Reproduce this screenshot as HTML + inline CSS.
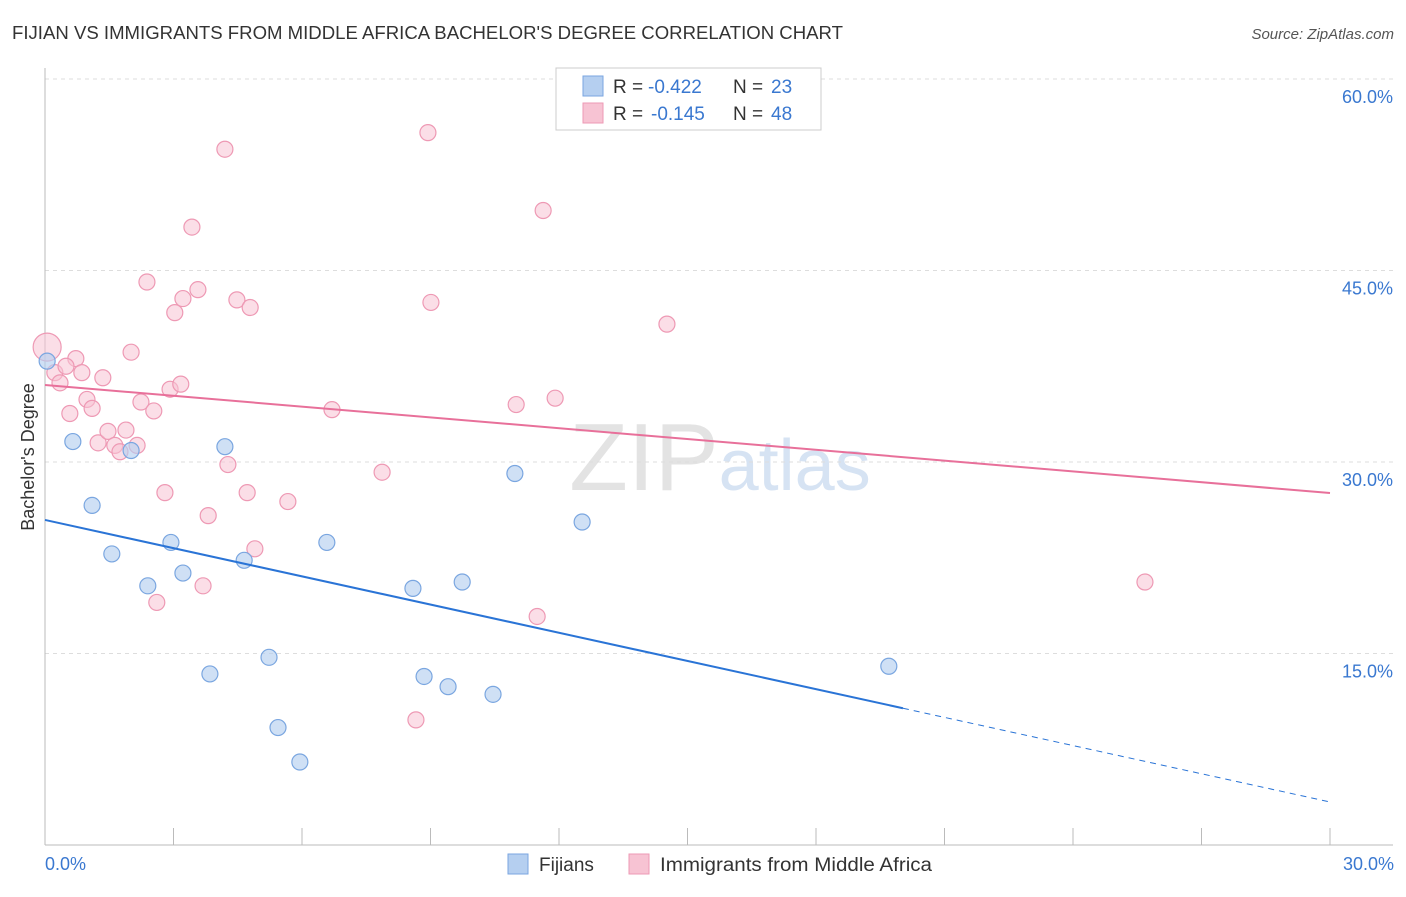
<!DOCTYPE html>
<html><head><meta charset="utf-8"><style>
body{margin:0;background:#fff;font-family:"Liberation Sans",sans-serif}
svg text{font-family:"Liberation Sans",sans-serif}
</style></head><body>
<svg id="c" width="1406" height="892">
<text x="12" y="39" font-size="18" fill="#333" textLength="831" lengthAdjust="spacingAndGlyphs">FIJIAN VS IMMIGRANTS FROM MIDDLE AFRICA BACHELOR'S DEGREE CORRELATION CHART</text>
<text x="1394" y="39" font-size="15" fill="#555" text-anchor="end" font-style="italic">Source: ZipAtlas.com</text>
<text x="720" y="490" font-size="96" fill="#e3e3e3" text-anchor="middle" font-family="Liberation Serif">ZIP<tspan fill="#d6e3f3" font-family="Liberation Sans" font-size="72">atlas</tspan></text>
<g id="grid"></g><g id="pts"></g><g id="lines"></g>
<text transform="translate(34,457) rotate(-90)" font-size="18" fill="#333" text-anchor="middle">Bachelor's Degree</text>
<text x="45" y="870" font-size="18" fill="#3a78d0">0.0%</text>
<text x="1394" y="870" font-size="18" fill="#3a78d0" text-anchor="end">30.0%</text>
<g>
<rect x="556" y="68" width="265" height="62" fill="#fff" stroke="#ccc"/>
<rect x="583" y="76" width="20" height="20" fill="#b5cff0" stroke="#7aa6e0"/>
<text x="613" y="93" font-size="19" fill="#333">R =</text>
<text x="648" y="93" font-size="19" fill="#3a78d0">-0.422</text>
<text x="733" y="93" font-size="19" fill="#333">N =</text>
<text x="771" y="93" font-size="19" fill="#3a78d0">23</text>
<rect x="583" y="103" width="20" height="20" fill="#f7c3d3" stroke="#ee99b4"/>
<text x="613" y="120" font-size="19" fill="#333">R =</text>
<text x="651" y="120" font-size="19" fill="#3a78d0">-0.145</text>
<text x="733" y="120" font-size="19" fill="#333">N =</text>
<text x="771" y="120" font-size="19" fill="#3a78d0">48</text>
</g>
<g>
<rect x="508" y="854" width="20" height="20" fill="#b5cff0" stroke="#7aa6e0"/>
<text x="539" y="871" font-size="19" fill="#333">Fijians</text>
<rect x="629" y="854" width="20" height="20" fill="#f7c3d3" stroke="#ee99b4"/>
<text x="660" y="871" font-size="19" fill="#333" textLength="272" lengthAdjust="spacingAndGlyphs">Immigrants from Middle Africa</text>
</g>
</svg>
<script>
const yTicks=[15,30,45,60];
const xTicks=[0,3,6,9,12,15,18,21,24,27,30];
const fijX=[0.05,0.65,1.10,1.56,2.01,2.40,2.94,3.22,3.85,4.20,4.65,5.23,5.44,5.95,6.58,8.59,8.85,9.41,9.74,10.46,10.97,12.54,19.70];
const fijY=[37.9,31.6,26.6,22.8,30.9,20.3,23.7,21.3,13.4,31.2,22.3,14.7,9.2,6.5,23.7,20.1,13.2,12.4,20.6,11.8,29.1,25.3,14.0];
const immX=[0.05,0.23,0.35,0.58,0.72,0.49,0.86,0.98,1.10,1.35,1.24,1.47,1.63,1.75,1.89,2.01,2.15,2.24,2.38,2.54,2.61,2.80,2.92,3.03,3.17,3.22,3.43,3.57,3.69,3.81,4.20,4.27,4.48,4.72,4.79,4.90,5.67,6.70,7.87,8.66,8.94,9.01,11.00,11.49,11.63,11.91,14.52,25.68];
const immY=[39.0,37.0,36.2,33.8,38.1,37.5,37.0,34.9,34.2,36.6,31.5,32.4,31.3,30.8,32.5,38.6,31.3,34.7,44.1,34.0,19.0,27.6,35.7,41.7,36.1,42.8,48.4,43.5,20.3,25.8,54.5,29.8,42.7,27.6,42.1,23.2,26.9,34.1,29.2,9.8,55.8,42.5,34.5,17.9,49.7,35.0,40.8,20.6];
const fijTrend=[25.46,3.37], fijSolidEnd=20.03;
const immTrend=[36.03,27.57];
const NS='http://www.w3.org/2000/svg';
const X=v=>45+v/30*1285, Y=v=>845-v/15*191.5;
function mk(t,a,p){const e=document.createElementNS(NS,t);for(const k in a)e.setAttribute(k,a[k]);p.appendChild(e);return e;}
const g=document.getElementById('grid');
yTicks.forEach(t=>{
 const l=mk('line',{x1:45,x2:1393,y1:Y(t),y2:Y(t),stroke:'#ddd','stroke-dasharray':'4,4'},g);
 
 
 const tx=mk('text',{x:1393,y:Y(t)+24,'font-size':18,fill:'#3a78d0','text-anchor':'end'},g);
 tx.textContent=t.toFixed(1)+'%';
 
 
});
const ax=mk('line',{x1:45,x2:45,y1:68,y2:845,stroke:'#bbb'},g);


const bx=mk('line',{x1:45,x2:1393,y1:845,y2:845,stroke:'#bbb'},g);


xTicks.forEach(t=>{
 const l=mk('line',{x1:X(t),x2:X(t),y1:828,y2:845,stroke:'#bbb'},g);
 
 
});
const p=document.getElementById('pts');
immX.forEach((x,i)=>{
 const c=mk('circle',{cx:X(x),cy:Y(immY[i]),r:i==0?14:8,fill:'#f7c3d3','fill-opacity':0.55,stroke:'#ee99b4','stroke-width':1.2},p);
 
 
});
fijX.forEach((x,i)=>{
 const c=mk('circle',{cx:X(x),cy:Y(fijY[i]),r:8,fill:'#b5cff0','fill-opacity':0.65,stroke:'#7aa6e0','stroke-width':1.2},p);
 
 
});
const L=document.getElementById('lines');
const fy=x=>fijTrend[0]+(fijTrend[1]-fijTrend[0])*x/30;
const a=mk('line',{x1:X(0),y1:Y(fy(0)),x2:X(fijSolidEnd),y2:Y(fy(fijSolidEnd)),stroke:'#2a74d6','stroke-width':2},L);


const b=mk('line',{x1:X(fijSolidEnd),y1:Y(fy(fijSolidEnd)),x2:X(30),y2:Y(fy(30)),stroke:'#2a74d6','stroke-width':1,'stroke-dasharray':'6,5'},L);


const c=mk('line',{x1:X(0),y1:Y(immTrend[0]),x2:X(30),y2:Y(immTrend[1]),stroke:'#e8709a','stroke-width':2},L);


</script>
</body></html>
